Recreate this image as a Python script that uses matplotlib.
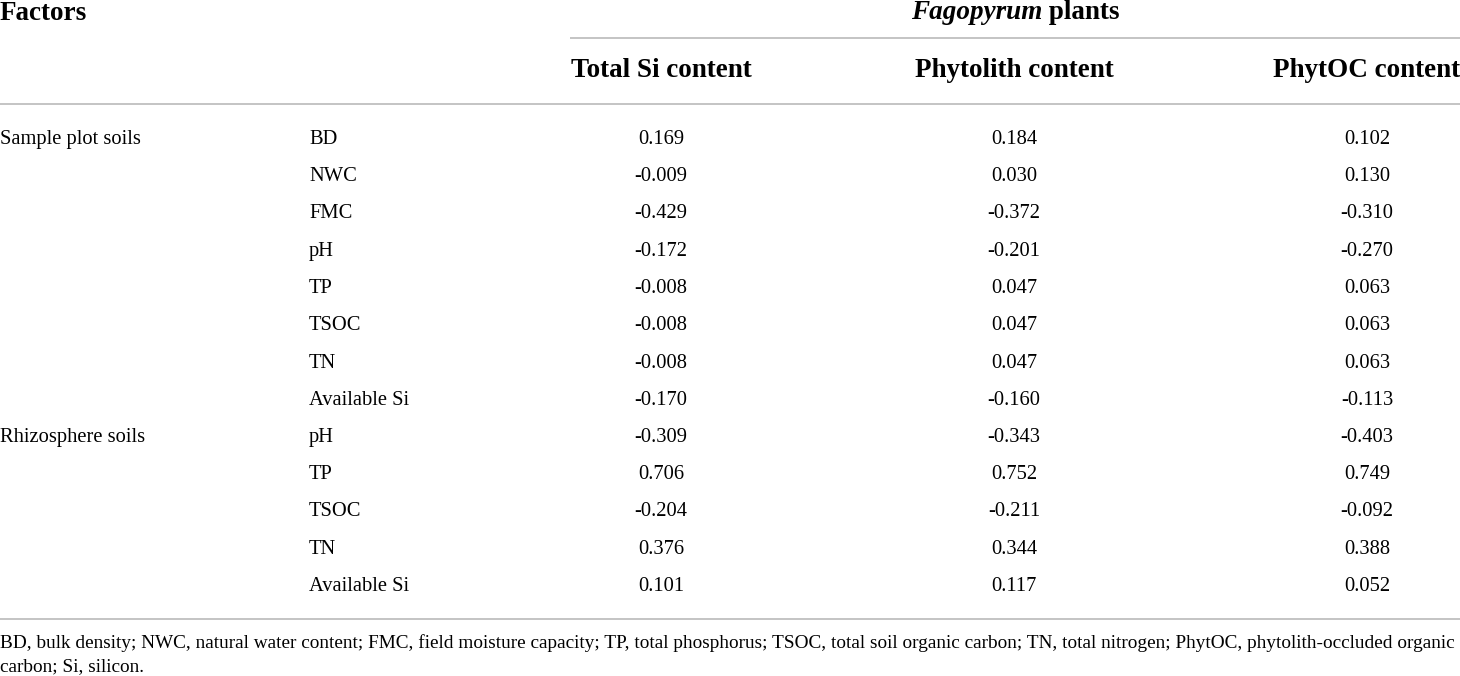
import matplotlib
matplotlib.use("Agg")
from matplotlib import pyplot as plt

plt.rcParams['font.family'] = ['Liberation Serif', 'DejaVu Serif']

groups = ['Sample plot soils', 'Rhizosphere soils']
group_rows = [0, 8]
factors = ['BD', 'NWC', 'FMC', 'pH', 'TP', 'TSOC', 'TN', 'Available Si',
           'pH', 'TP', 'TSOC', 'TN', 'Available Si']
col_heads = ['Total Si content', 'Phytolith content', 'PhytOC content']
total_si = ['0.169', '-0.009', '-0.429', '-0.172', '-0.008', '-0.008', '-0.008', '-0.170',
            '-0.309', '0.706', '-0.204', '0.376', '0.101']
phytolith = ['0.184', '0.030', '-0.372', '-0.201', '0.047', '0.047', '0.047', '-0.160',
             '-0.343', '0.752', '-0.211', '0.344', '0.117']
phytoc = ['0.102', '0.130', '-0.310', '-0.270', '0.063', '0.063', '0.063', '-0.113',
          '-0.403', '0.749', '-0.092', '0.388', '0.052']
footnote = ["BD, bulk density; NWC, natural water content; FMC, field moisture capacity; TP, total phosphorus; "
            "TSOC, total soil organic carbon; TN, total nitrogen; PhytOC, phytolith-occluded organic",
            "carbon; Si, silicon."]

W, H = 1460, 676
fig = plt.figure(figsize=(W / 100, H / 100), dpi=100)
ax = fig.add_axes([0, 0, 1, 1])
ax.set_xlim(0, W)
ax.set_ylim(H, 0)
ax.axis('off')

line_c = '#c4c4c4'
fs_head = 19.5
fs_body = 14.8
fs_note = 13.9

# header row 1
ax.text(0, 20, 'Factors', fontsize=fs_head, fontweight='bold', va='baseline', ha='left')
renderer = fig.canvas.get_renderer()
ta = ax.text(0, 19, 'Fagopyrum', fontsize=fs_head, fontstyle='italic', fontweight='bold',
             va='baseline', ha='left')
tb = ax.text(0, 19, ' plants', fontsize=fs_head, fontweight='bold', va='baseline', ha='left')
wa = ta.get_window_extent(renderer).width
wb = tb.get_window_extent(renderer).width
x_start = 1015 - (wa + wb) / 2
ta.set_x(x_start)
tb.set_x(x_start + wa)
ax.plot([570, W], [38, 38], color=line_c, lw=1.4, solid_capstyle='butt')

# header row 2
col_x = [661, 1014, 1367]
for x, h in zip(col_x, col_heads):
    ax.text(x, 77, h, fontsize=fs_head, fontweight='bold', va='baseline', ha='center')
ax.plot([0, W], [104, 104], color=line_c, lw=1.4, solid_capstyle='butt')

# body
y0, dy = 144, 37.25
for g, r in zip(groups, group_rows):
    ax.text(0, y0 + r * dy, g, fontsize=fs_body, va='baseline', ha='left')
for i, f in enumerate(factors):
    y = y0 + i * dy
    ax.text(309, y, f, fontsize=fs_body, va='baseline', ha='left')
    for x, col in zip(col_x, [total_si, phytolith, phytoc]):
        ax.text(x, y, col[i], fontsize=fs_body, va='baseline', ha='center')

ax.plot([0, W], [619, 619], color=line_c, lw=1.4, solid_capstyle='butt')

# footnote
ax.text(0, 648, footnote[0], fontsize=fs_note, va='baseline', ha='left')
ax.text(0, 671, footnote[1], fontsize=fs_note, va='baseline', ha='left')

plt.savefig('out.png', dpi=100)
